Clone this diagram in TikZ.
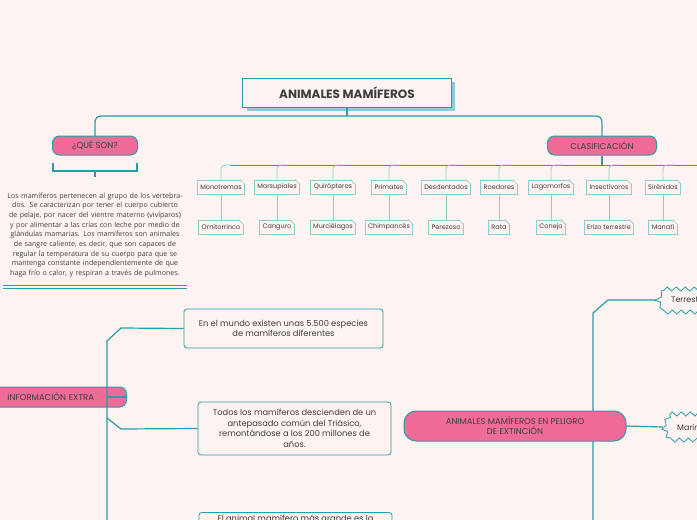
\documentclass[tikz,border=0pt]{standalone}
\usepackage{fontspec}
\setmainfont{Poppins}
\newfontfamily\parfont{Open Sans}
\usetikzlibrary{decorations.pathmorphing,calc}
\definecolor{bg}{HTML}{FDF3F1}
\definecolor{teal}{HTML}{2A9DA8}
\definecolor{pinkc}{HTML}{F06C98}
\definecolor{lteal}{HTML}{8ECBD2}
\definecolor{txt}{HTML}{3E3E3E}
\tikzset{
 pill/.style={draw=teal,line width=1pt,fill=pinkc,rounded corners=7pt,text=txt,font=\fontsize{8.5}{10}\selectfont,align=center,inner sep=0pt},
 infobox/.style={draw=teal,line width=0.8pt,fill=bg,rounded corners=3pt,text=txt,font=\fontsize{8.3}{10.5}\selectfont,align=center,inner sep=0pt},
 cat/.style={draw=lteal,line width=0.8pt,fill=bg,text=txt,font=\fontsize{6.5}{7}\selectfont,minimum height=14pt,inner xsep=3pt,inner ysep=0pt},
 conn/.style={teal,line width=1.2pt},
 lconn/.style={lteal,line width=0.8pt,rounded corners=4pt},
}
\newcommand{\fold}[1]{\fill[bg] ($(#1.north east)+(-5,-0.5)$) -- ($(#1.north east)+(0.5,-0.5)$) -- ($(#1.north east)+(0.5,5)$) -- cycle;
 \draw[lteal,line width=0.6pt] ($(#1.north east)+(-5,0)$) -- ($(#1.north east)+(0,5)$);}
\begin{document}
\begin{tikzpicture}[x=1pt,y=-1pt]
\fill[bg] (0,0) rectangle (697,520);
\useasboundingbox (0,0) rectangle (697,520);
\clip (0,0) rectangle (697,520);
% title
\fill[lteal] (247,82) rectangle (455,111);
\node[draw=teal,line width=0.8pt,fill=bg,minimum width=209pt,minimum height=29pt,inner sep=0pt,text=txt,font=\bfseries\fontsize{12}{14}\selectfont] (title) at (347,93) {ANIMALES MAMÍFEROS};
\draw[conn,rounded corners=6pt] (95,136) -- (95,116) -- (602,116) -- (602,136);
\draw[conn] (title.south) -- (347,116);
\node[pill,minimum width=85pt,minimum height=19pt] (que) at (95,145.5) {¿QUÉ SON?};
\node[pill,minimum width=109pt,minimum height=19pt] (clas) at (602,145.5) {CLASIFICACIÓN};
% bracket
\draw[conn] (53,163) -- (53,171) -- (137,171) -- (137,163);
\draw[conn] (95,171) -- (95,177);
\node[text=txt,font=\parfont\fontsize{7.1}{9.7}\selectfont,align=center,text width=184pt,inner sep=0pt] (par) at (95,235) {Los mamíferos pertenecen al grupo de los vertebrados. Se caracterizan por tener el cuerpo cubierto de pelaje, por nacer del vientre materno (vivíparos) y por alimentar a las crías con leche por medio de glándulas mamarias. Los mamíferos son animales de sangre caliente, es decir, que son capaces de regular la temperatura de su cuerpo para que se mantenga constante independientemente de que haga frío o calor, y respiran a través de pulmones.};
\draw[conn,line width=0.9pt] (3,285) -- (187,285) (3,288.5) -- (187,288.5);
% classification
\draw[conn] (clas.south) -- (602,165);
\draw[conn,line width=1pt] (230,165) -- (697,165);
\foreach \x/\a/\b/\n in {221/Monotremas/Ornitorrinco/1,277/Marsupiales/Canguro/2,333/Quirópteros/Murciélagos/3,389/Primates/Chimpancés/4,446/Desdentados/Perezoso/5,499/Roedores/Rata/6,551/Lagomorfos/Conejo/7,609/Insectívoros/Erizo terrestre/8,663/Sirénidos/Manatí/9,718/Cetáceos/Delfín/10}{
 \draw[lconn] (\x+12,165) -- (\x,165) -- (\x,181);
 \node[cat] (c\n) at (\x,187) {\a};
 \node[cat] (d\n) at (\x,227) {\b};
 \draw[lconn] (c\n.south) -- (d\n.north);
 \fold{c\n} \fold{d\n}
}
% info extra
\node[pill,minimum width=140pt,minimum height=20pt,anchor=west,text width=130pt,align=left,inner xsep=5pt] (info) at (-14,397) {\hspace*{16pt}INFORMACIÓN EXTRA};
\node[infobox,minimum width=199pt,minimum height=39pt] (i1) at (283.5,328.5) {En el mundo existen unas 5.500 especies\\de mamíferos diferentes};
\node[infobox,minimum width=193pt,minimum height=53pt] (i2) at (294.5,428.5) {Todos los mamíferos descienden de un\\antepasado común del Triásico,\\remontándose a los 200 millones de\\años.};
\node[infobox,minimum width=193pt,minimum height=40pt,anchor=north] (i3) at (295.5,512) {};
\node[text=txt,font=\fontsize{8.3}{10.5}\selectfont,anchor=north,inner sep=0pt] (i3t) at (295.5,515) {El animal mamífero más grande es la};
\draw[conn] (i1.west) -- (121,328) -- (107,341) -- (107,520);
\draw[conn] (i2.west) -- (121,429) -- (107,418);
\draw[conn] (info.east) -- (107,397);
% peligro
\draw[conn] (657,300) -- (608,300) -- (593,313) -- (593,520);
\node[pill,minimum width=222pt,minimum height=30pt,rounded corners=12pt] (pel) at (515,426) {ANIMALES MAMÍFEROS EN PELIGRO\\DE EXTINCIÓN};
\draw[conn] (pel.east) -- (663,427);
\draw[teal,line width=0.8pt,fill=bg,decorate,decoration={zigzag,segment length=9pt,amplitude=2pt}] (665,289) -- (710,289) -- (710,312) -- (665,312) -- (657,300) -- cycle;
\node[text=txt,font=\fontsize{8}{9}\selectfont,anchor=west,inner sep=0pt] (ter) at (671,300) {Terrestres};
\draw[teal,line width=0.8pt,fill=bg,decorate,decoration={zigzag,segment length=9pt,amplitude=2pt}] (670,414) -- (710,414) -- (710,440) -- (670,440) -- (663,427) -- cycle;
\node[text=txt,font=\fontsize{8}{9}\selectfont,anchor=west,inner sep=0pt] (mar) at (677,427) {Marinos};
\end{tikzpicture}
\end{document}
